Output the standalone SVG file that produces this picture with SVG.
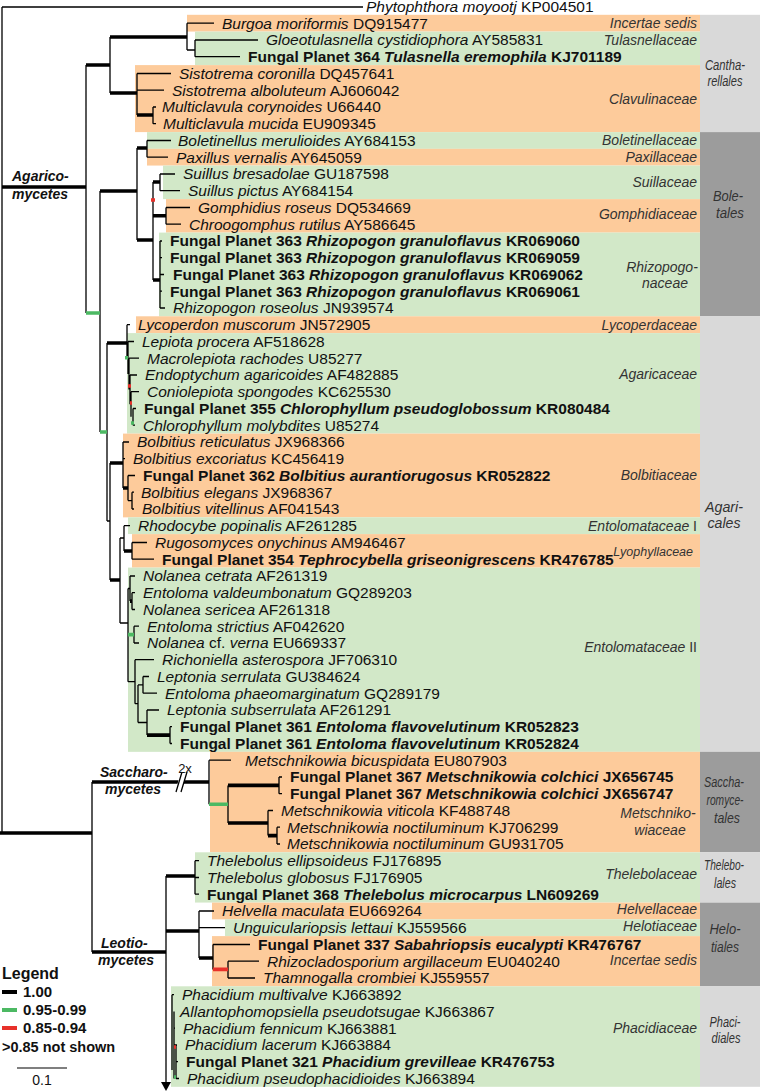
<svg xmlns="http://www.w3.org/2000/svg" width="760" height="1092" viewBox="0 0 760 1092">
<style>
text{font-family:"Liberation Sans",Arial,sans-serif;fill:#111}
.tx{font-size:15.5px}
.i{font-style:italic}
.b{font-weight:bold}
.fam{font-size:14px;font-style:italic;fill:#333;text-anchor:end}
.ord{font-size:14px;font-style:italic;fill:#333;text-anchor:middle}
.o{fill:#FDCB9B}
.gr{fill:#D2E8C8}
.lg{fill:#D9D9D9}
.dg{fill:#9C9C9C}
.t{fill:none;stroke:#000;stroke-width:1.3}
.k{fill:none;stroke:#000;stroke-width:3.6}
.gn{fill:none;stroke:#4CB963;stroke-width:3.6}
.rd{fill:none;stroke:#E8312A;stroke-width:3.6}
.cl{font-size:14px;font-weight:bold;font-style:italic;fill:#111}
</style>
<g id="family-boxes">
<rect class="o" x="187" y="14.8" width="513" height="16.75"/>
<rect class="gr" x="195" y="31.6" width="505" height="33.5"/>
<rect class="o" x="135" y="65.1" width="565" height="67"/>
<rect class="gr" x="147" y="132.1" width="553" height="16.75"/>
<rect class="o" x="147" y="148.8" width="553" height="16.75"/>
<rect class="gr" x="163" y="165.6" width="537" height="33.5"/>
<rect class="o" x="166" y="199.1" width="534" height="33.5"/>
<rect class="gr" x="159" y="232.6" width="541" height="83.75"/>
<rect class="o" x="136" y="316.3" width="564" height="16.75"/>
<rect class="gr" x="127" y="333.1" width="573" height="100.5"/>
<rect class="o" x="123" y="433.6" width="577" height="83.75"/>
<rect class="gr" x="128" y="517.3" width="572" height="16.75"/>
<rect class="o" x="132" y="534.1" width="568" height="33.5"/>
<rect class="gr" x="128" y="567.6" width="572" height="184.25"/>
<rect class="o" x="210" y="751.8" width="490" height="100.5"/>
<rect class="gr" x="195" y="852.3" width="505" height="50.25"/>
<rect class="o" x="212" y="902.6" width="488" height="16.75"/>
<rect class="gr" x="225" y="919.3" width="475" height="16.75"/>
<rect class="o" x="212" y="936.1" width="488" height="50.25"/>
<rect class="gr" x="171" y="986.3" width="529" height="100.5"/>
</g>
<g id="order-boxes">
<rect class="lg" x="700" y="14.8" width="60" height="117.3"/>
<rect class="dg" x="700" y="132.1" width="60" height="184.25"/>
<rect class="lg" x="700" y="316.3" width="60" height="435.5"/>
<rect class="dg" x="700" y="751.8" width="60" height="100.5"/>
<rect class="lg" x="700" y="852.3" width="60" height="50.25"/>
<rect class="dg" x="700" y="902.6" width="60" height="83.75"/>
<rect class="lg" x="700" y="986.3" width="60" height="100.5"/>
</g>
<g id="connectors">
<path class="t" d="M2 7H363M2 7V833M86 65V313M110 37V93M187 23.2V50M187 23.2H214M187 50H195M195 40V56.7M195 40H258M195 56.7H240M137 73.5V115M137 73.5H171M137 90.2H164M153 107V123.7M153 107H156M153 123.7H156M100 191V432M137 148V240M147 140.5V157.2M147 140.5H171M147 157.2H168M153 182V280M160 174V190.7M160 174H175M160 190.7H180M166 207.5V224.2M166 207.5H190M166 224.2H181M160 241V308M160 241H162M160 257.7H162M160 274.5H164M160 291.2H162M160 308H165M107 343V521M127 324.7V357.7M127 324.7H130M128 341.5V373.9M128 341.5H134M129 358.2V389.6M129 358.2H139M130 375V404.3M130 375H137M131 391.7V416.8M131 391.7H139M133 408.5V425.2M133 408.5H136M133 425.2H135M107 521H110M110 463V580M123 442V488M123 442H129M123 458.7H125M128 475.5V500.6M128 475.5H135M128 500.6H132M132 492.2V509M132 492.2H134M132 509H134M120 538V623M120 538H124M124 525.7V551M124 525.7H130M132 542.5V559.2M132 542.5H147M132 559.2H154M120 623H128M128 588.5V681.7M128 588.5H130M130 576V601.1M130 576H135M132 592.7V609.5M132 592.7H135M132 609.5H135M134 626.2V643M134 626.2H139M134 643H139M128 681.7H135M135 659.7V703.7M135 659.7H154M135 703.7H138M138 684.9V722.5M138 684.9H143M143 676.5V693.2M143 676.5H149M143 693.2H157M138 722.5H147M147 710V735.1M147 710H159M170 726.7V743.5M170 726.7H172M170 743.5H172M92 782V952M209 760.2V804.2M209 760.2H231M228 785.4V823M279 777V793.7M279 777H282M279 793.7H282M268 810.5V835.6M268 810.5H273M277 827.2V844M277 827.2H280M277 844H280M166 876V1084M195 860.7V894.2M195 860.7H199M195 877.5H199M195 894.2H199M199 911V958M199 911H214M199 927.7H225M213 944.5V969.4M213 944.5H250M228 961.2V978M228 961.2H259M228 978H255M172 994.7V1070M172 994.7H174M172 1011.5H172M174 1011.5V1078.5M174 1028.2H175M174 1045H177M176 1045V1078.5M176 1061.7H178M176 1078.5H179"/>
<path class="k" d="M2 187H86M86 65H110M110 37H187M110 93H137M137 115H153M100 191H137M137 148H147M137 240H153M153 182H160M153 215.8H166M153 280H160M107 343H127M110 463H123M123 488H128M110 580H120M124 551H132M130 601.1H132M147 735.1H170M0 833H92M92 782H209M228 785.4H279M228 823H268M268 835.6H277M92 952H166M166 876H195M166 931H199M199 958H213"/>
<path class="gn" d="M86 313H100M100 432H107M125 357.7H128M131 423H134M128 634.6H134M209 804.2H228M174 1077H176"/>
<path class="rd" d="M151 200H155M128 386H131M130 403H132M213 969.4H228M174 1047H176"/>
<path d="M181 770L187 770L181 794L175 794Z" fill="#fff"/>
<path class="t" d="M176 792L182 772M181 792L187 772"/>
<path d="M161 1082L171 1082L166 1091Z" fill="#000"/>
</g>
<g id="clade-labels">
<text class="cl" x="12" y="181">Agarico-</text>
<text class="cl" x="12" y="199">mycetes</text>
<text class="cl" x="100" y="777">Saccharo-</text>
<text class="cl" x="105" y="794">mycetes</text>
<text x="185" y="773" style="font-size:13px;text-anchor:middle">2x</text>
<text class="cl" x="101" y="948">Leotio-</text>
<text class="cl" x="98" y="965">mycetes</text>
</g>
<g id="leaves" class="tx">
<g id="n-outgroup"><text x="366" y="12"><tspan class="i">Phytophthora moyootj</tspan> KP004501</text></g>
<g id="n0"><text x="222" y="28.5"><tspan class="i">Burgoa moriformis</tspan> DQ915477</text></g>
<g id="n1"><text x="266" y="45.3"><tspan class="i">Gloeotulasnella cystidiophora</tspan> AY585831</text></g>
<g id="n2"><text x="248" y="62" class="b">Fungal Planet 364 <tspan class="i">Tulasnella eremophila</tspan> KJ701189</text></g>
<g id="n3"><text x="179" y="78.8"><tspan class="i">Sistotrema coronilla</tspan> DQ457641</text></g>
<g id="n4"><text x="172" y="95.5"><tspan class="i">Sistotrema alboluteum</tspan> AJ606042</text></g>
<g id="n5"><text x="162" y="112.3"><tspan class="i">Multiclavula corynoides</tspan> U66440</text></g>
<g id="n6"><text x="163" y="129"><tspan class="i">Multiclavula mucida</tspan> EU909345</text></g>
<g id="n7"><text x="178" y="145.8"><tspan class="i">Boletinellus merulioides</tspan> AY684153</text></g>
<g id="n8"><text x="176" y="162.5"><tspan class="i">Paxillus vernalis</tspan> AY645059</text></g>
<g id="n9"><text x="183" y="179.3"><tspan class="i">Suillus bresadolae</tspan> GU187598</text></g>
<g id="n10"><text x="188" y="196"><tspan class="i">Suillus pictus</tspan> AY684154</text></g>
<g id="n11"><text x="198" y="212.8"><tspan class="i">Gomphidius roseus</tspan> DQ534669</text></g>
<g id="n12"><text x="189" y="229.5"><tspan class="i">Chroogomphus rutilus</tspan> AY586645</text></g>
<g id="n13"><text x="170" y="246.3" class="b">Fungal Planet 363 <tspan class="i">Rhizopogon granuloflavus</tspan> KR069060</text></g>
<g id="n14"><text x="170" y="263" class="b">Fungal Planet 363 <tspan class="i">Rhizopogon granuloflavus</tspan> KR069059</text></g>
<g id="n15"><text x="173" y="279.8" class="b">Fungal Planet 363 <tspan class="i">Rhizopogon granuloflavus</tspan> KR069062</text></g>
<g id="n16"><text x="170" y="296.5" class="b">Fungal Planet 363 <tspan class="i">Rhizopogon granuloflavus</tspan> KR069061</text></g>
<g id="n17"><text x="173" y="313.3"><tspan class="i">Rhizopogon roseolus</tspan> JN939574</text></g>
<g id="n18"><text x="138" y="330"><tspan class="i">Lycoperdon muscorum</tspan> JN572905</text></g>
<g id="n19"><text x="142" y="346.8"><tspan class="i">Lepiota procera</tspan> AF518628</text></g>
<g id="n20"><text x="147" y="363.5"><tspan class="i">Macrolepiota rachodes</tspan> U85277</text></g>
<g id="n21"><text x="145" y="380.3"><tspan class="i">Endoptychum agaricoides</tspan> AF482885</text></g>
<g id="n22"><text x="147" y="397"><tspan class="i">Coniolepiota spongodes</tspan> KC625530</text></g>
<g id="n23"><text x="144" y="413.8" class="b">Fungal Planet 355 <tspan class="i">Chlorophyllum pseudoglobossum</tspan> KR080484</text></g>
<g id="n24"><text x="143" y="430.5"><tspan class="i">Chlorophyllum molybdites</tspan> U85274</text></g>
<g id="n25"><text x="137" y="447.3"><tspan class="i">Bolbitius reticulatus</tspan> JX968366</text></g>
<g id="n26"><text x="133" y="464"><tspan class="i">Bolbitius excoriatus</tspan> KC456419</text></g>
<g id="n27"><text x="143" y="480.8" class="b">Fungal Planet 362 <tspan class="i">Bolbitius aurantiorugosus</tspan> KR052822</text></g>
<g id="n28"><text x="141" y="497.5"><tspan class="i">Bolbitius elegans</tspan> JX968367</text></g>
<g id="n29"><text x="142" y="514.3"><tspan class="i">Bolbitius vitellinus</tspan> AF041543</text></g>
<g id="n30"><text x="138" y="531"><tspan class="i">Rhodocybe popinalis</tspan> AF261285</text></g>
<g id="n31"><text x="155" y="547.8"><tspan class="i">Rugosomyces onychinus</tspan> AM946467</text></g>
<g id="n32"><text x="162" y="564.5" class="b">Fungal Planet 354 <tspan class="i">Tephrocybella griseonigrescens</tspan> KR476785</text></g>
<g id="n33"><text x="143" y="581.3"><tspan class="i">Nolanea cetrata</tspan> AF261319</text></g>
<g id="n34"><text x="143" y="598"><tspan class="i">Entoloma valdeumbonatum</tspan> GQ289203</text></g>
<g id="n35"><text x="143" y="614.8"><tspan class="i">Nolanea sericea</tspan> AF261318</text></g>
<g id="n36"><text x="147" y="631.5"><tspan class="i">Entoloma strictius</tspan> AF042620</text></g>
<g id="n37"><text x="147" y="648.3"><tspan class="i">Nolanea</tspan> cf. <tspan class="i">verna</tspan> EU669337</text></g>
<g id="n38"><text x="162" y="665"><tspan class="i">Richoniella asterospora</tspan> JF706310</text></g>
<g id="n39"><text x="157" y="681.8"><tspan class="i">Leptonia serrulata</tspan> GU384624</text></g>
<g id="n40"><text x="165" y="698.5"><tspan class="i">Entoloma phaeomarginatum</tspan> GQ289179</text></g>
<g id="n41"><text x="167" y="715.3"><tspan class="i">Leptonia subserrulata</tspan> AF261291</text></g>
<g id="n42"><text x="180" y="732" class="b">Fungal Planet 361 <tspan class="i">Entoloma flavovelutinum</tspan> KR052823</text></g>
<g id="n43"><text x="180" y="748.8" class="b">Fungal Planet 361 <tspan class="i">Entoloma flavovelutinum</tspan> KR052824</text></g>
<g id="n44"><text x="245" y="765.5"><tspan class="i">Metschnikowia bicuspidata</tspan> EU807903</text></g>
<g id="n45"><text x="290" y="782.3" class="b">Fungal Planet 367 <tspan class="i">Metschnikowia colchici</tspan> JX656745</text></g>
<g id="n46"><text x="290" y="799" class="b">Fungal Planet 367 <tspan class="i">Metschnikowia colchici</tspan> JX656747</text></g>
<g id="n47"><text x="281" y="815.8"><tspan class="i">Metschnikowia viticola</tspan> KF488748</text></g>
<g id="n48"><text x="287" y="832.5"><tspan class="i">Metschnikowia noctiluminum</tspan> KJ706299</text></g>
<g id="n49"><text x="287" y="849.3"><tspan class="i">Metschnikowia noctiluminum</tspan> GU931705</text></g>
<g id="n50"><text x="207" y="866"><tspan class="i">Thelebolus ellipsoideus</tspan> FJ176895</text></g>
<g id="n51"><text x="207" y="882.8"><tspan class="i">Thelebolus globosus</tspan> FJ176905</text></g>
<g id="n52"><text x="207" y="899.5" class="b">Fungal Planet 368 <tspan class="i">Thelebolus microcarpus</tspan> LN609269</text></g>
<g id="n53"><text x="222" y="916.3"><tspan class="i">Helvella maculata</tspan> EU669264</text></g>
<g id="n54"><text x="233" y="933"><tspan class="i">Unguiculariopsis lettaui</tspan> KJ559566</text></g>
<g id="n55"><text x="258" y="949.8" class="b">Fungal Planet 337 <tspan class="i">Sabahriopsis eucalypti</tspan> KR476767</text></g>
<g id="n56"><text x="267" y="966.5"><tspan class="i">Rhizocladosporium argillaceum</tspan> EU040240</text></g>
<g id="n57"><text x="263" y="983.3"><tspan class="i">Thamnogalla crombiei</tspan> KJ559557</text></g>
<g id="n58"><text x="182" y="1000"><tspan class="i">Phacidium multivalve</tspan> KJ663892</text></g>
<g id="n59"><text x="180" y="1016.8"><tspan class="i">Allantophomopsiella pseudotsugae</tspan> KJ663867</text></g>
<g id="n60"><text x="183" y="1033.5"><tspan class="i">Phacidium fennicum</tspan> KJ663881</text></g>
<g id="n61"><text x="185" y="1050.3"><tspan class="i">Phacidium lacerum</tspan> KJ663884</text></g>
<g id="n62"><text x="186" y="1067" class="b">Fungal Planet 321 <tspan class="i">Phacidium grevilleae</tspan> KR476753</text></g>
<g id="n63"><text x="187" y="1083.8"><tspan class="i">Phacidium pseudophacidioides</tspan> KJ663894</text></g>
</g>
<g id="family-labels">
<text class="fam" x="697" y="28">Incertae sedis</text>
<text class="fam" x="697" y="45">Tulasnellaceae</text>
<text class="fam" x="697" y="104">Clavulinaceae</text>
<text class="fam" x="697" y="145">Boletinellaceae</text>
<text class="fam" x="697" y="162">Paxillaceae</text>
<text class="fam" x="697" y="187">Suillaceae</text>
<text class="fam" x="697" y="219">Gomphidiaceae</text>
<text class="fam" x="662" y="272" style="text-anchor:middle">Rhizopogo-</text>
<text class="fam" x="665" y="288" style="text-anchor:middle">naceae</text>
<text class="fam" x="697" y="330">Lycoperdaceae</text>
<text class="fam" x="697" y="379">Agaricaceae</text>
<text class="fam" x="697" y="480">Bolbitiaceae</text>
<text class="fam" x="697" y="531">Entolomataceae <tspan style="font-style:normal">I</tspan></text>
<text class="fam" x="693" y="556" style="font-size:12.5px">Lyophyllaceae</text>
<text class="fam" x="697" y="652">Entolomataceae <tspan style="font-style:normal">II</tspan></text>
<text class="fam" x="658" y="818" style="text-anchor:middle">Metschniko-</text>
<text class="fam" x="660" y="835" style="text-anchor:middle">wiaceae</text>
<text class="fam" x="697" y="879">Thelebolaceae</text>
<text class="fam" x="697" y="914">Helvellaceae</text>
<text class="fam" x="697" y="931">Helotiaceae</text>
<text class="fam" x="697" y="965">Incertae sedis</text>
<text class="fam" x="697" y="1033">Phacidiaceae</text>
</g>
<g id="order-labels">
<text class="ord" x="725" y="70" textLength="40" lengthAdjust="spacingAndGlyphs">Cantha-</text>
<text class="ord" x="725" y="86" textLength="35" lengthAdjust="spacingAndGlyphs">rellales</text>
<text class="ord" x="728" y="201" textLength="30" lengthAdjust="spacingAndGlyphs">Bole-</text>
<text class="ord" x="730" y="218" textLength="28" lengthAdjust="spacingAndGlyphs">tales</text>
<text class="ord" x="724" y="512" textLength="38" lengthAdjust="spacingAndGlyphs">Agari-</text>
<text class="ord" x="724" y="528" textLength="33" lengthAdjust="spacingAndGlyphs">cales</text>
<text class="ord" x="724" y="787" textLength="40" lengthAdjust="spacingAndGlyphs">Saccha-</text>
<text class="ord" x="725" y="805" textLength="37" lengthAdjust="spacingAndGlyphs">romyce-</text>
<text class="ord" x="727" y="823" textLength="26" lengthAdjust="spacingAndGlyphs">tales</text>
<text class="ord" x="724" y="870" textLength="40" lengthAdjust="spacingAndGlyphs">Thelebo-</text>
<text class="ord" x="725" y="888" textLength="22" lengthAdjust="spacingAndGlyphs">lales</text>
<text class="ord" x="725" y="934" textLength="31" lengthAdjust="spacingAndGlyphs">Helo-</text>
<text class="ord" x="725" y="952" textLength="28" lengthAdjust="spacingAndGlyphs">tiales</text>
<text class="ord" x="725" y="1027" textLength="31" lengthAdjust="spacingAndGlyphs">Phaci-</text>
<text class="ord" x="726" y="1043" textLength="29" lengthAdjust="spacingAndGlyphs">diales</text>
</g>
<g id="legend">
<text x="2" y="979" style="font-size:16px;font-weight:bold">Legend</text>
<path d="M2 992H17" stroke="#000" stroke-width="4"/>
<text x="23" y="997" class="b" style="font-size:15px">1.00</text>
<path d="M2 1010H17" stroke="#4CB963" stroke-width="4"/>
<text x="23" y="1015" class="b" style="font-size:15px">0.95-0.99</text>
<path d="M2 1028H17" stroke="#E8312A" stroke-width="4"/>
<text x="23" y="1033" class="b" style="font-size:15px">0.85-0.94</text>
<text x="2" y="1052" class="b" style="font-size:14.5px">&gt;0.85 not shown</text>
<path d="M17 1068H67" stroke="#000" stroke-width="1.2"/>
<text x="42" y="1085" style="font-size:14px;text-anchor:middle">0.1</text>
</g>
</svg>
